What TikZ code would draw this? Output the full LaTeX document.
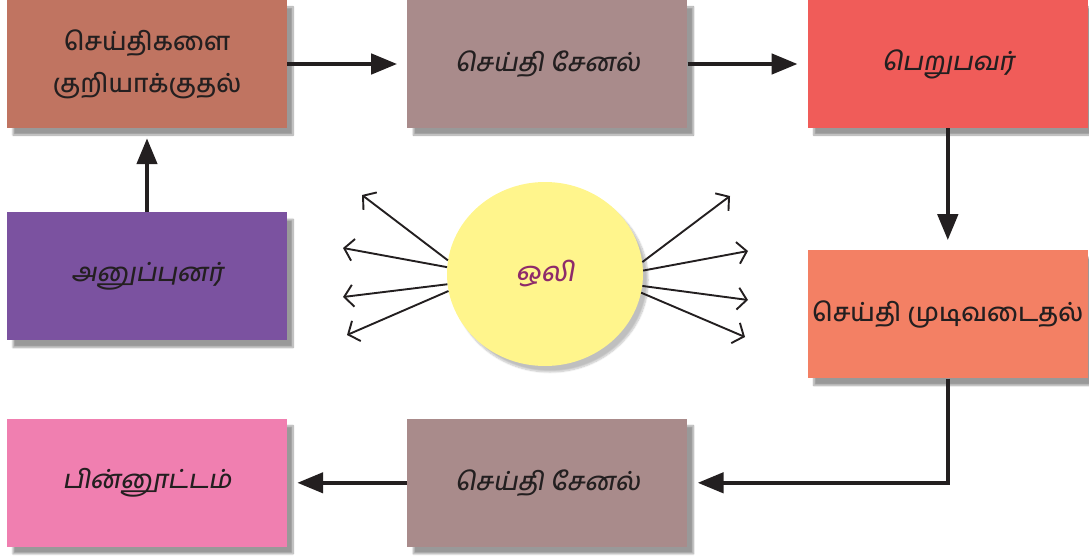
\documentclass[tikz,border=0pt]{standalone}
\usepackage{fontspec}
\usepackage{xcolor}
\usepackage{tikz}
\usetikzlibrary{arrows.meta,positioning,shapes.geometric,shadows.blur}
\newfontfamily\tamilfont[Script=Tamil]{Hind Madurai Medium}
\newfontfamily\tamilslant[Script=Tamil,FakeSlant=0.18]{Hind Madurai Medium}
\definecolor{inkcol}{RGB}{35,31,32}
\definecolor{enccol}{RGB}{192,116,97}
\definecolor{chancol}{RGB}{169,139,139}
\definecolor{recvcol}{RGB}{240,92,89}
\definecolor{sendcol}{RGB}{123,82,160}
\definecolor{deccol}{RGB}{243,128,100}
\definecolor{fbcol}{RGB}{240,127,176}
\definecolor{noisecol}{RGB}{255,245,140}
\definecolor{noisetext}{RGB}{142,42,106}
\tikzstyle{msgbox}=[rectangle,minimum width=280pt,minimum height=128pt,inner sep=0pt,
                  align=center,text=inkcol,font=\tamilfont\fontsize{25.5}{42}\selectfont,
                  blur shadow={shadow xshift=6pt,shadow yshift=-7pt,shadow blur steps=10,shadow opacity=40}]
\tikzstyle{slanted}=[font=\tamilslant\fontsize{25.5}{42}\selectfont]
\tikzstyle{noise}=[ellipse,fill=noisecol,minimum width=196pt,minimum height=184pt,inner sep=0pt,
                  text=noisetext,font=\tamilslant\fontsize{27}{30}\selectfont,
                  blur shadow={shadow xshift=5pt,shadow yshift=-6pt,shadow blur steps=10,shadow opacity=25}]
\tikzstyle{flow}=[-{Triangle[length=26pt,width=20pt]},line width=4.5pt,draw=inkcol,shorten >=10pt]
\tikzstyle{spray}=[-{Straight Barb[length=9pt,width=22pt]},line width=1.9pt,draw=inkcol]

\begin{document}
\begin{tikzpicture}[x=1pt,y=-1pt,node distance=122pt and 120pt]
      \useasboundingbox (0,0) rectangle (1089,559);
      \node[msgbox,fill=enccol] (enc) at (147,64) {செய்திகளை\\குறியாக்குதல்};
      \node[msgbox,slanted,fill=chancol,right=of enc] (chan1) {செய்தி சேனல்};
      \node[msgbox,slanted,fill=recvcol,right=of chan1] (recv) {பெறுபவர்};
      \node[msgbox,slanted,fill=sendcol,below=84pt of enc] (send) {அனுப்புனர்};
      \node[msgbox,fill=deccol,below=of recv] (dec) {செய்தி முடிவடைதல்};
      \node[msgbox,slanted,fill=fbcol,below=78pt of send] (fb) {பின்னூட்டம்};
      \node[msgbox,slanted,fill=chancol,right=of fb] (chan2) {செய்தி சேனல்};
      \node[noise] (noise) at (545,274) {ஒலி};
      \draw[flow] (send) -- (enc);
      \draw[flow] (enc) -- (chan1);
      \draw[flow] (chan1) -- (recv);
      \draw[flow] (recv) -- (dec);
      \draw[flow] (dec.south) |- (chan2.east);
      \draw[flow] (chan2) -- (fb);
      % noise spreading out
      \coordinate (l1) at (362,195);
      \coordinate (l2) at (343,248);
      \coordinate (l3) at (343,297);
      \coordinate (l4) at (347,335);
      \coordinate (r1) at (730,196);
      \coordinate (r2) at (748,251);
      \coordinate (r3) at (748,300);
      \coordinate (r4) at (745,337);
      \draw[spray] (noise.172) -- (l1);
      \draw[spray] (noise.176) -- (l2);
      \draw[spray] (noise.186) -- (l3);
      \draw[spray] (noise.190) -- (l4);
      \draw[spray] (noise.7) -- (r1);
      \draw[spray] (noise.2) -- (r2);
      \draw[spray] (noise.353) -- (r3);
      \draw[spray] (noise.349) -- (r4);
    \end{tikzpicture}
\end{document}
